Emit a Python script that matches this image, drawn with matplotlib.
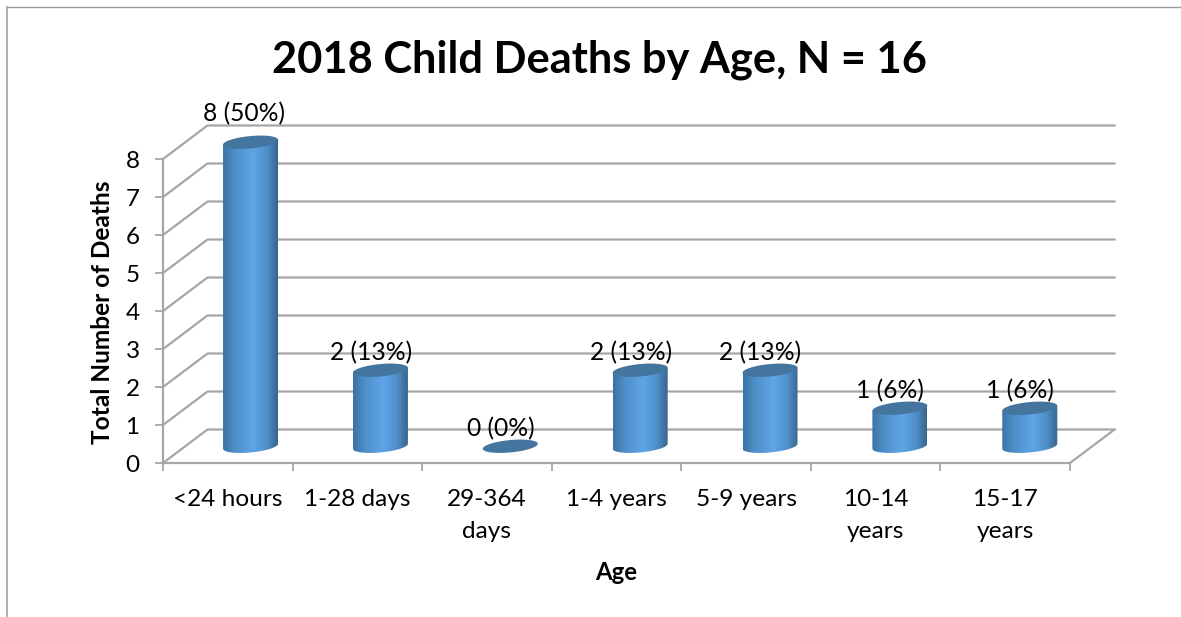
import numpy as np
import matplotlib
matplotlib.use("Agg")
import matplotlib.pyplot as plt
from matplotlib.colors import LinearSegmentedColormap
from matplotlib.lines import Line2D
from matplotlib.patches import Polygon

# data
ages = ["<24 hours", "1-28 days", "29-364\ndays", "1-4 years", "5-9 years", "10-14\nyears", "15-17\nyears"]
deaths = [8, 2, 0, 2, 2, 1, 1]
pct_labels = ["8 (50%)", "2 (13%)", "0 (0%)", "2 (13%)", "2 (13%)", "1 (6%)", "1 (6%)"]
y_ticks = [0, 1, 2, 3, 4, 5, 6, 7, 8]

W, H = 1181, 617
GRID = "#a6a6a6"
FONT = "Lato"

plt.rcParams["font.family"] = [FONT, "DejaVu Sans"]

fig = plt.figure(figsize=(W / 100, H / 100), dpi=100, facecolor="white")
# front plane of the fake 3d box
left, right, y0, y8 = 163, 1070, 463, 159
ax = fig.add_axes([left / W, 1 - y0 / H, (right - left) / W, (y0 - y8) / H])
ax.set_xlim(0, 7)
ax.set_ylim(0, 8)
ax.patch.set_visible(False)

px_x = 7 / (right - left)
px_y = 8 / (y0 - y8)

# depth of the box
dx = 44.5 * px_x
dy = 33.5 * px_y

for v in y_ticks:
    ax.plot([0, dx, 7 + dx], [v, v + dy, v + dy], color=GRID, lw=1.6, clip_on=False, zorder=1)
ax.plot([7, 7 + dx], [0, dy], color=GRID, lw=1.6, clip_on=False, zorder=1)

# cylinders
cmap = LinearSegmentedColormap.from_list(
    "cyl",
    [(0, "#3b72a6"), (0.22, "#4f8fc9"), (0.55, "#5fa5e6"), (0.8, "#4f8fc9"), (1, "#39648c")],
)
a = 27.5 * px_x
b = 6.2 * px_y
k = 2.5 * px_y
t = np.linspace(0, 2 * np.pi, 120)
t_low = np.linspace(np.pi, 2 * np.pi, 60)

for i, val in enumerate(deaths):
    # bars drift slightly right of the tick spacing, perspective in the original
    cx = i + 0.5 + dx / 2 + (0.5 + 0.3 * i) * px_x
    base = dy / 2
    top = base + val
    if val > 0:
        xs = cx + a * np.cos(t_low)
        ys = base + b * np.sin(t_low) + k * np.cos(t_low)
        body = np.column_stack([
            np.r_[xs, cx + a, cx - a],
            np.r_[ys, top + k, top - k],
        ])
        im = ax.imshow(
            np.linspace(0, 1, 256)[None, :], cmap=cmap, aspect="auto",
            extent=[cx - a, cx + a, base - 1, top + 1], zorder=3,
        )
        clip = Polygon(body, closed=True, transform=ax.transData)
        im.set_clip_path(clip)
        im.set_clip_box(fig.bbox)
    cap = np.column_stack([cx + a * np.cos(t), top + b * np.sin(t) + k * np.cos(t)])
    ax.add_patch(Polygon(cap, closed=True, fc="#44759f", ec="none", clip_on=False, zorder=4))

    # Excel lifts the tallest label a bit more, and it clears the top of the box
    off_x, off_y = (-6.5, 28.5) if val == max(deaths) else (-9.5, 18)
    ax.annotate(
        pct_labels[i], (cx, top), xytext=(off_x * 0.72, off_y * 0.72), textcoords="offset points",
        ha="center", va="center", fontsize=17.7, color="black", zorder=5, annotation_clip=False,
    )

ax.set_xlim(0, 7)
ax.set_ylim(0, 8)

for s in ["top", "right"]:
    ax.spines[s].set_visible(False)
for s in ["left", "bottom"]:
    ax.spines[s].set_color(GRID)
    ax.spines[s].set_linewidth(1.6)

ax.set_yticks(y_ticks)
ax.tick_params(axis="y", length=5.8, width=1.3, color=GRID, pad=11, labelsize=17.5)
ax.set_xticks(range(8))
ax.set_xticklabels([])
ax.tick_params(axis="x", which="major", length=5.5, width=1.3, color=GRID)
ax.set_xticks(np.arange(7) + 0.5, minor=True)
ax.set_xticklabels(ages, minor=True, linespacing=1.65)
ax.tick_params(axis="x", which="minor", length=0, pad=19, labelsize=17.6)

fig.text(599 / W, 1 - 60 / H, "2018 Child Deaths by Age, N = 16", ha="center", va="center",
         fontsize=31.2, fontweight="bold")
fig.text(616 / W, 1 - 572 / H, "Age", ha="center", va="center", fontsize=17.2, fontweight="bold")
fig.text(103 / W, 1 - 312 / H, "Total Number of Deaths", ha="center", va="center",
         rotation=90, fontsize=17.6, fontweight="bold")

# frame of the pasted chart, only top and left show
fig.add_artist(Line2D([6.5 / W, 1], [1 - 6.5 / H] * 2, color="#9a9a9a", lw=1, transform=fig.transFigure))
fig.add_artist(Line2D([6.5 / W] * 2, [0, 1 - 6.5 / H], color="#b0b0b0", lw=1.4, transform=fig.transFigure))

fig.savefig("out.png", dpi=100)
